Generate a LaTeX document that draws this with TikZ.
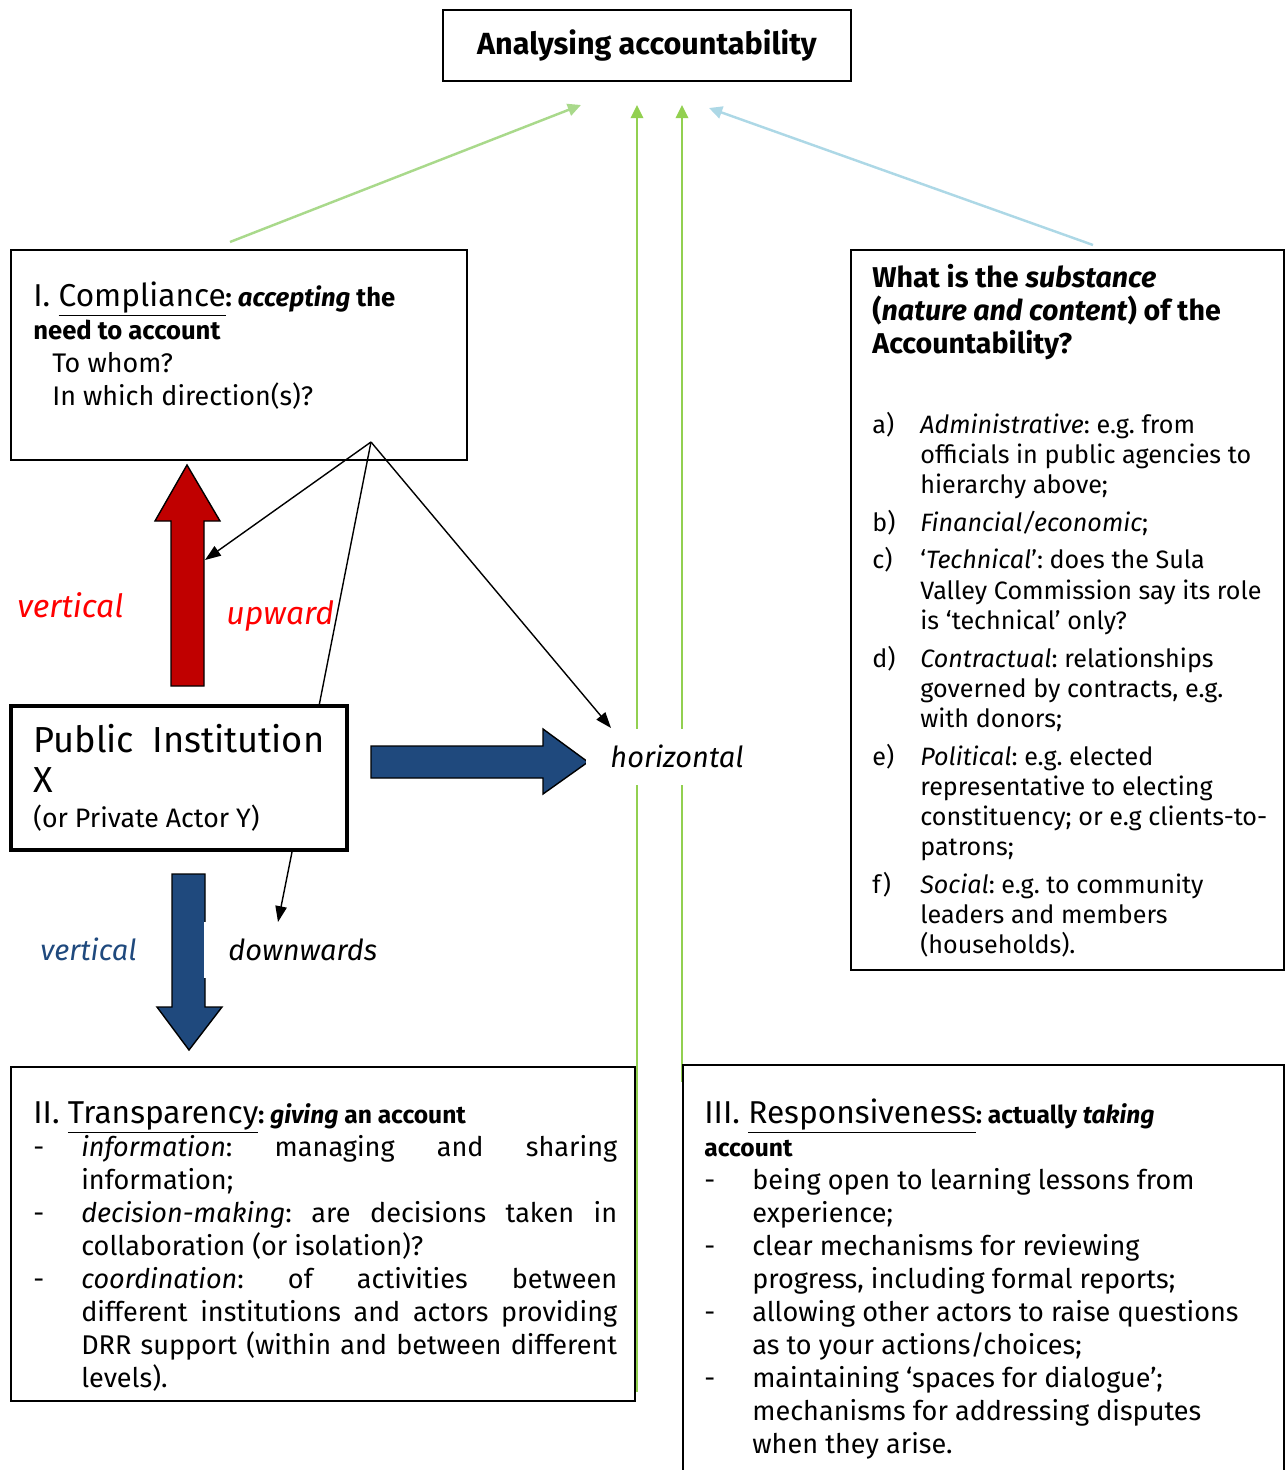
\documentclass[tikz,border=0pt]{standalone}
\usepackage{fontspec}
\setmainfont{Fira Sans}
\usetikzlibrary{arrows.meta}

\definecolor{arrowred}{HTML}{C00000}
\definecolor{labelred}{HTML}{FF0000}
\definecolor{navy}{HTML}{1F497D}
\definecolor{linegreen}{HTML}{92D050}
\definecolor{palegreen}{HTML}{A9D98B}
\definecolor{paleblue}{HTML}{ADD8E6}

% natural (stretchable) word spaces inside aligned nodes
\newcommand{\natsp}{\frenchspacing\spaceskip=0pt\xspaceskip=0pt\relax}
% hanging list entry: optional space above, label, text
\newcommand{\itm}[3][4.5pt]{\par\vspace{#1}\hangindent=27.3pt\hangafter=1\noindent\makebox[27.3pt][l]{#2}#3\par}
\newcommand{\dashline}[1]{\makebox[27.3pt][l]{-}#1}
\newcommand{\contline}[1]{\hspace*{27.3pt}#1}
\newcommand{\fullline}[1]{\makebox[305pt][s]{#1}}

\tikzset{
  box/.style={draw, line width=1pt, anchor=north west, inner sep=0pt, outer sep=0pt},
  txt/.style={anchor=base west, inner sep=0pt, align=left},
  lab/.style={anchor=base west, inner sep=0pt, font=\itshape\fontsize{16.5}{20}\selectfont},
  gap/.style={fill=white, inner xsep=13.7pt, inner ysep=0pt, text height=21.6pt, text depth=10.2pt},
  feed/.style={line width=1.4pt, -{Triangle[length=7.5pt,width=7pt]}},
  thin/.style={line width=0.8pt, -{Triangle[length=9pt,width=6.5pt]}},
  block/.style={draw=black, line width=0.8pt},
}

\begin{document}
\begin{tikzpicture}[x=0.02cm, y=-0.02cm]
\useasboundingbox (0,0) rectangle (1285,1470);

% end points of the feeds into the title
\coordinate (inA) at (581,105);
\coordinate (inB) at (637,105);
\coordinate (inC) at (682,105);
\coordinate (inD) at (709,108);
\coordinate (complTop) at (230,242);
\coordinate (transpEdge) at (637,1392);
\coordinate (respEdge) at (682,1082);
\coordinate (substTop) at (1093,245);

\draw[feed, palegreen] (complTop) -- (inA);
\draw[feed, linegreen] (transpEdge) -- (inB);
\draw[feed, linegreen] (respEdge) -- (inC);
\draw[feed, paleblue] (substTop) -- (inD);

% boxes
\node[box, minimum width=8.16cm, minimum height=1.42cm, font=\bfseries\fontsize{17.4}{20}\selectfont] (title) at (443,10) {Analysing accountability};
\node[box, minimum width=9.12cm, minimum height=4.2cm] (compl) at (11,250) {};
\node[box, minimum width=8.66cm, minimum height=14.4cm] (subst) at (851,250) {};
\node[box, line width=1.8pt, minimum width=6.72cm, minimum height=2.88cm] (pub) at (11,706) {};
\node[box, minimum width=12.48cm, minimum height=6.68cm] (transp) at (11,1067) {};
\node[box, minimum width=12.02cm, minimum height=8.4cm] (resp) at (683,1065) {};

% texts of the boxes
\node[txt, text width=9cm, font=\fontsize{15.3}{18.8}\selectfont] (compltxt) at (33,306)
  {\natsp{\fontsize{18}{18.8}\selectfont I. \underline{Compliance}}{\fontsize{14.6}{18.8}\selectfont\bfseries: \textit{accepting} the}\\
   {\fontsize{14.6}{18.8}\selectfont\bfseries need to account}\\
   \hspace*{10.8pt}To whom?\\
   \hspace*{10.8pt}In which direction(s)?};

\node[txt, text width=8.3cm, font=\fontsize{14.3}{17.1}\selectfont] (substtxt) at (872,287)
  {\natsp{\fontsize{16.3}{18.8}\selectfont\bfseries What is the \textit{substance}\newline
    (\textit{nature and content}) of the\newline
    Accountability?\par}
   \itm[28.4pt]{a)}{\textit{Administrative}: e.g. from\newline officials in public agencies to\newline hierarchy above;}
   \itm{b)}{\textit{Financial/economic};}
   \itm{c)}{‘\textit{Technical}’: does the Sula\newline Valley Commission say its role\newline is ‘technical’ only?}
   \itm{d)}{\textit{Contractual}: relationships\newline governed by contracts, e.g.\newline with donors;}
   \itm{e)}{\textit{Political}: e.g. elected\newline representative to electing\newline \mbox{constituency; or e.g clients-to-}\newline patrons;}
   \itm{f)}{\textit{Social}: e.g. to community\newline leaders and members\newline (households).}};

\node[txt, text width=6.5cm] (pubtxt) at (33,752)
  {\natsp{\fontsize{20.6}{23.3}\selectfont \makebox[165.6pt][s]{Public Institution}\\ X\par}
   {\fontsize{15.2}{19.9}\selectfont (or Private Actor Y)\par}};

\node[txt, text width=332.4pt, font=\fontsize{15.4}{18.8}\selectfont] (transptxt) at (33,1123)
  {\natsp{\fontsize{18}{18.8}\selectfont II. \underline{Transparency}}{\fontsize{14}{18.8}\selectfont\bfseries: \textit{giving} an account}\\
   \dashline{\fullline{\textit{information}: managing and sharing}}\\
   \contline{information;}\\
   \dashline{\fullline{\textit{decision-making}: are decisions taken in}}\\
   \contline{collaboration (or isolation)?}\\
   \dashline{\fullline{\textit{coordination}: of activities between}}\\
   \contline{\fullline{different institutions and actors providing}}\\
   \contline{\fullline{DRR support (within and between different}}\\
   \contline{levels).}};

\node[txt, text width=11cm, font=\fontsize{15.4}{18.8}\selectfont] (resptxt) at (704,1123)
  {\natsp{\fontsize{18}{18.8}\selectfont III. \underline{Responsiveness}}{\fontsize{14}{18.8}\selectfont\bfseries: actually \textit{taking}}\\
   {\fontsize{14}{18.8}\selectfont\bfseries account}\\
   \dashline{being open to learning lessons from}\\
   \contline{experience;}\\
   \dashline{clear mechanisms for reviewing}\\
   \contline{progress, including formal reports;}\\
   \dashline{allowing other actors to raise questions}\\
   \contline{as to your actions/choices;}\\
   \dashline{maintaining ‘spaces for dialogue’;}\\
   \contline{mechanisms for addressing disputes}\\
   \contline{when they arise.}};

% block arrows
\draw[block, fill=arrowred] (171,686) -- (171,521) -- (155,521) -- (187,465) -- (220,521) -- (204,521) -- (204,686) -- cycle;
\draw[block, fill=navy] (371,746) -- (543,746) -- (543,729) -- (588,762) -- (543,794) -- (543,778) -- (371,778) -- cycle;
\draw[block, fill=navy] (172,874) -- (205,874) -- (205,1007) -- (222,1007) -- (189,1050) -- (157,1007) -- (172,1007) -- cycle;

% direction labels
\node[lab, text=labelred, font=\itshape\fontsize{18.2}{20}\selectfont] (upleft) at (17,617) {vertical};
\node[lab, text=labelred, font=\itshape\fontsize{18.2}{20}\selectfont] (upright) at (226,624) {upward};
\node[lab, text=navy] (downleft) at (40,960) {vertical};
\node[lab, gap] (downright) at (204,960) {downwards};
\node[lab, gap] (horiz) at (586,767) {horizontal};

% thin connectors from the compliance box
\coordinate (fork) at (371,442);
\coordinate (redShaft) at (205,560);
\coordinate (pubTop) at (319,706);
\coordinate (horizTop) at (611,728);
\coordinate (pubBase) at (292,852);
\coordinate (downTop) at (278,922);
\draw[thin] (fork) -- (redShaft);
\draw[line width=0.8pt] (fork) -- (pubTop);
\draw[thin] (fork) -- (horizTop);
\draw[thin] (pubBase) -- (downTop);
\end{tikzpicture}
\end{document}
